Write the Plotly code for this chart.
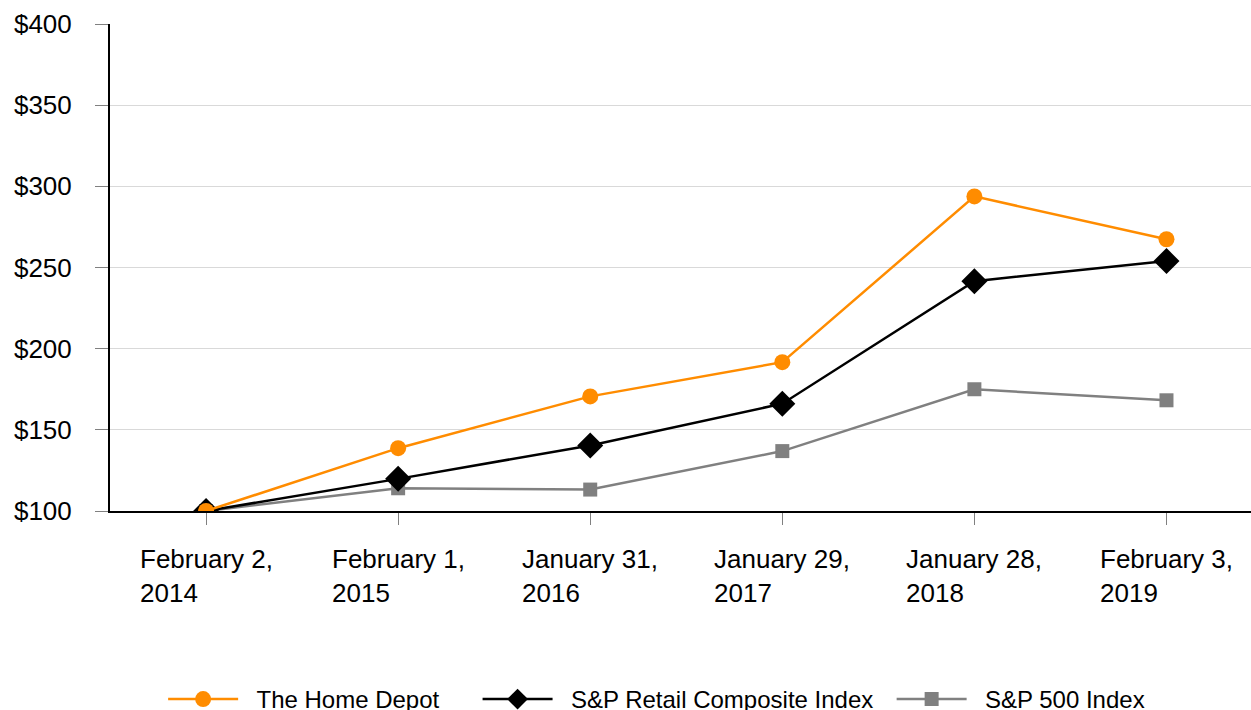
import plotly.graph_objects as go

dates = ["February 2,<br>2014", "February 1,<br>2015", "January 31,<br>2016",
         "January 29,<br>2017", "January 28,<br>2018", "February 3,<br>2019"]
home_depot = [100, 138.7, 170.6, 191.7, 293.8, 267.4]
sp_retail = [100, 119.8, 140.4, 166.1, 241.6, 254.0]
sp_500 = [100, 114.0, 113.2, 136.9, 175.0, 168.2]
y_ticks = [100, 150, 200, 250, 300, 350, 400]
y_labels = ["$100", "$150", "$200", "$250", "$300", "$350", "$400"]
series_names = ["The Home Depot", "S&P Retail Composite Index", "S&P 500 Index"]

FONT = "Liberation Sans, Arial, sans-serif"
NB = "\u00a0"
ORANGE = "#FF8C00"
xs = list(range(len(dates)))

# legend spacing: leading/trailing non-breaking spaces emulate the original gaps
legend_names = [NB * 2 + series_names[0] + NB * 5,
                NB * 2 + series_names[1] + NB * 2,
                NB * 2 + series_names[2]]

fig = go.Figure()
fig.add_trace(go.Scatter(x=xs, y=sp_500, name=legend_names[2], mode="lines+markers",
                         line=dict(color="#808080", width=2.5),
                         marker=dict(symbol="square", size=14, color="#808080")))
fig.add_trace(go.Scatter(x=xs, y=sp_retail, name=legend_names[1], mode="lines+markers",
                         line=dict(color="#000000", width=2.5),
                         marker=dict(symbol="diamond", size=20, color="#000000")))
fig.add_trace(go.Scatter(x=xs, y=home_depot, name=legend_names[0], mode="lines+markers",
                         line=dict(color=ORANGE, width=2.5),
                         marker=dict(symbol="circle", size=16, color=ORANGE)))

for i, d in enumerate(dates):
    fig.add_annotation(x=i, y=0, xref="x", yref="paper", text=d, showarrow=False,
                       xanchor="center", yanchor="top", align="left", yshift=-31,
                       font=dict(family=FONT, size=26, color="#000000"))

fig.update_layout(
    width=1251, height=710,
    margin=dict(l=110, r=0, t=24, b=199),
    plot_bgcolor="white", paper_bgcolor="white",
    font=dict(family=FONT, size=26, color="#000000"),
    showlegend=True,
    legend=dict(orientation="h", traceorder="reversed", xref="container", yref="container",
                x=0.1304, y=1 - 677 / 710, xanchor="left", yanchor="top",
                font=dict(family=FONT, size=24, color="#000000"),
                itemwidth=70, bgcolor="rgba(0,0,0,0)"),
    xaxis=dict(range=[-0.5, 5.44], tickmode="array", tickvals=xs, ticktext=[""] * len(xs),
               showgrid=False, zeroline=False, showline=True, linecolor="#000000", linewidth=2,
               ticks="outside", ticklen=12, tickcolor="#808080", tickwidth=1, fixedrange=True),
    yaxis=dict(range=[100, 400], tickmode="array", tickvals=y_ticks, ticktext=y_labels,
               showgrid=True, gridcolor="#d9d9d9", gridwidth=1, zeroline=False,
               showline=True, linecolor="#000000", linewidth=2,
               ticks="outside", ticklen=13, tickcolor="#808080", tickwidth=1,
               tickfont=dict(family=FONT, size=26), ticklabelstandoff=18, fixedrange=True),
)

fig.write_html("out.html")
